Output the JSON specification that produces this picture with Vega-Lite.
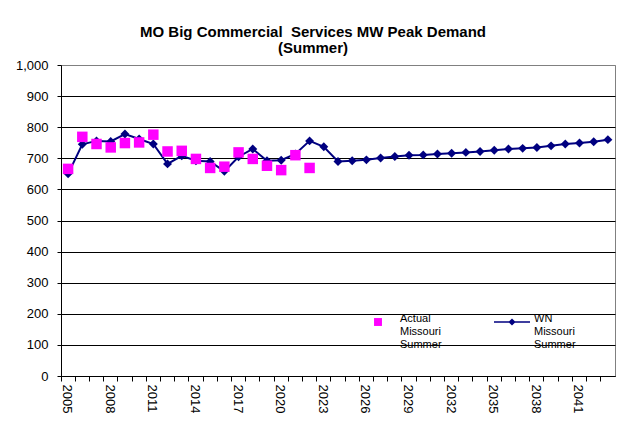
{
  "$schema": "https://vega.github.io/schema/vega-lite/v6.json",
  "width": 554,
  "height": 311,
  "autosize": {"type": "none"},
  "padding": {"left": 61, "top": 65, "right": 9, "bottom": 62},
  "background": "white",
  "title": {
    "text": ["MO Big Commercial\u00a0 Services MW Peak Demand", "(Summer)"],
    "font": "Liberation Sans",
    "fontSize": 15,
    "fontWeight": "bold",
    "color": "#000",
    "anchor": "middle",
    "dx": -25,
    "offset": 3,
    "lineHeight": 16
  },
  "data": {
    "values": [
      {"year": 2005, "series": "WN Missouri Summer", "value": 650},
      {"year": 2006, "series": "WN Missouri Summer", "value": 745},
      {"year": 2007, "series": "WN Missouri Summer", "value": 756},
      {"year": 2008, "series": "WN Missouri Summer", "value": 754},
      {"year": 2009, "series": "WN Missouri Summer", "value": 778},
      {"year": 2010, "series": "WN Missouri Summer", "value": 762},
      {"year": 2011, "series": "WN Missouri Summer", "value": 746},
      {"year": 2012, "series": "WN Missouri Summer", "value": 682},
      {"year": 2013, "series": "WN Missouri Summer", "value": 708},
      {"year": 2014, "series": "WN Missouri Summer", "value": 692},
      {"year": 2015, "series": "WN Missouri Summer", "value": 690},
      {"year": 2016, "series": "WN Missouri Summer", "value": 658},
      {"year": 2017, "series": "WN Missouri Summer", "value": 705},
      {"year": 2018, "series": "WN Missouri Summer", "value": 730},
      {"year": 2019, "series": "WN Missouri Summer", "value": 692},
      {"year": 2020, "series": "WN Missouri Summer", "value": 694},
      {"year": 2021, "series": "WN Missouri Summer", "value": 714},
      {"year": 2022, "series": "WN Missouri Summer", "value": 756},
      {"year": 2023, "series": "WN Missouri Summer", "value": 737},
      {"year": 2024, "series": "WN Missouri Summer", "value": 690},
      {"year": 2025, "series": "WN Missouri Summer", "value": 692},
      {"year": 2026, "series": "WN Missouri Summer", "value": 695},
      {"year": 2027, "series": "WN Missouri Summer", "value": 701},
      {"year": 2028, "series": "WN Missouri Summer", "value": 706},
      {"year": 2029, "series": "WN Missouri Summer", "value": 710},
      {"year": 2030, "series": "WN Missouri Summer", "value": 711},
      {"year": 2031, "series": "WN Missouri Summer", "value": 714},
      {"year": 2032, "series": "WN Missouri Summer", "value": 716},
      {"year": 2033, "series": "WN Missouri Summer", "value": 719},
      {"year": 2034, "series": "WN Missouri Summer", "value": 722},
      {"year": 2035, "series": "WN Missouri Summer", "value": 726},
      {"year": 2036, "series": "WN Missouri Summer", "value": 730},
      {"year": 2037, "series": "WN Missouri Summer", "value": 732},
      {"year": 2038, "series": "WN Missouri Summer", "value": 735},
      {"year": 2039, "series": "WN Missouri Summer", "value": 740},
      {"year": 2040, "series": "WN Missouri Summer", "value": 746},
      {"year": 2041, "series": "WN Missouri Summer", "value": 749},
      {"year": 2042, "series": "WN Missouri Summer", "value": 753},
      {"year": 2043, "series": "WN Missouri Summer", "value": 760},
      {"year": 2005, "series": "Actual Missouri Summer", "value": 666},
      {"year": 2006, "series": "Actual Missouri Summer", "value": 769},
      {"year": 2007, "series": "Actual Missouri Summer", "value": 746},
      {"year": 2008, "series": "Actual Missouri Summer", "value": 735},
      {"year": 2009, "series": "Actual Missouri Summer", "value": 749},
      {"year": 2010, "series": "Actual Missouri Summer", "value": 751},
      {"year": 2011, "series": "Actual Missouri Summer", "value": 776},
      {"year": 2012, "series": "Actual Missouri Summer", "value": 722},
      {"year": 2013, "series": "Actual Missouri Summer", "value": 724},
      {"year": 2014, "series": "Actual Missouri Summer", "value": 698},
      {"year": 2015, "series": "Actual Missouri Summer", "value": 669},
      {"year": 2016, "series": "Actual Missouri Summer", "value": 673},
      {"year": 2017, "series": "Actual Missouri Summer", "value": 719},
      {"year": 2018, "series": "Actual Missouri Summer", "value": 698},
      {"year": 2019, "series": "Actual Missouri Summer", "value": 676},
      {"year": 2020, "series": "Actual Missouri Summer", "value": 662},
      {"year": 2021, "series": "Actual Missouri Summer", "value": 710},
      {"year": 2022, "series": "Actual Missouri Summer", "value": 669}
    ]
  },
  "encoding": {
    "x": {
      "field": "year",
      "type": "ordinal",
      "scale": {"type": "band", "paddingInner": 0, "paddingOuter": 0},
      "axis": {
        "title": null,
        "bandPosition": 0,
        "labelAngle": 90,
        "labelAlign": "left",
        "labelBaseline": "middle",
        "labelOffset": -1,
        "labelPadding": 3,
        "labelOverlap": false,
        "labelExpr": "(toNumber(datum.value) - 2005) % 3 == 0 ? datum.label : ''",
        "labelFont": "Liberation Sans",
        "labelFontSize": 13,
        "labelColor": "#000",
        "tickSize": 5,
        "tickColor": "#000",
        "domainColor": "#000",
        "grid": false
      }
    },
    "y": {
      "field": "value",
      "type": "quantitative",
      "scale": {"domain": [0, 1000], "nice": false},
      "axis": {
        "title": null,
        "values": [0, 100, 200, 300, 400, 500, 600, 700, 800, 900, 1000],
        "format": ",d",
        "labelFont": "Liberation Sans",
        "labelFontSize": 13,
        "labelColor": "#000",
        "labelPadding": 9,
        "tickSize": 4,
        "tickColor": "#000",
        "domainColor": "#000",
        "grid": true,
        "gridColor": {"condition": {"test": "datum.value == 1000", "value": "#808080"}, "value": "#000"},
        "gridOpacity": 1,
        "gridWidth": 1
      }
    }
  },
  "layer": [
    {
      "transform": [{"filter": "datum.series == 'WN Missouri Summer'"}],
      "mark": {"type": "line", "color": "#000080", "strokeWidth": 2}
    },
    {
      "transform": [{"filter": "datum.series == 'WN Missouri Summer'"}],
      "mark": {"type": "point", "shape": "diamond", "filled": true, "size": 80, "opacity": 1},
      "encoding": {
        "color": {
          "field": "series",
          "type": "nominal",
          "scale": {"domain": ["Actual Missouri Summer", "WN Missouri Summer"], "range": ["#FF00FF", "#000080"]},
          "legend": {
            "orient": "none", "legendX": 299, "legendY": 239, "direction": "horizontal", "columns": 2,
            "columnPadding": 52, "title": null, "padding": 0, "symbolSize": 1296, "symbolStrokeWidth": 0,
            "symbolOpacity": 1, "labelExpr": "split(datum.label, ' ')", "labelFont": "Liberation Sans",
            "labelFontSize": 11, "labelColor": "#000", "labelOffset": 4, "labelBaseline": "alphabetic", "labelLimit": 0
          }
        }
      }
    },
    {
      "transform": [{"filter": "datum.series == 'Actual Missouri Summer'"}],
      "mark": {"type": "point", "shape": "square", "filled": true, "size": 110, "opacity": 1},
      "encoding": {
        "color": {
          "field": "series",
          "type": "nominal",
          "legend": {
            "orient": "none", "legendX": 299, "legendY": 239, "direction": "horizontal", "columns": 2,
            "columnPadding": 52, "title": null, "padding": 0, "symbolSize": 1296, "symbolStrokeWidth": 0,
            "symbolOpacity": 1, "labelExpr": "split(datum.label, ' ')", "labelFont": "Liberation Sans",
            "labelFontSize": 11, "labelColor": "#000", "labelOffset": 4, "labelBaseline": "alphabetic", "labelLimit": 0
          }
        }
      }
    },
    {
      "transform": [{"filter": "false"}],
      "mark": {"type": "point", "filled": true, "opacity": 1},
      "encoding": {
        "color": {
          "field": "series",
          "type": "nominal",
          "legend": {
            "orient": "none", "legendX": 299, "legendY": 239, "direction": "horizontal", "columns": 2,
            "columnPadding": 52, "title": null, "padding": 0, "symbolSize": 1296, "symbolStrokeWidth": 0,
            "symbolOpacity": 1, "labelExpr": "split(datum.label, ' ')", "labelFont": "Liberation Sans",
            "labelFontSize": 11, "labelColor": "#000", "labelOffset": 4, "labelBaseline": "alphabetic", "labelLimit": 0
          }
        },
        "shape": {
          "field": "series",
          "type": "nominal",
          "scale": {
            "domain": ["Actual Missouri Summer", "WN Missouri Summer"],
            "range": [
              "M-0.22,-0.22L0.22,-0.22L0.22,0.22L-0.22,0.22Z",
              "M-1,-0.045L1,-0.045L1,0.045L-1,0.045Z M-0.2,0L0,-0.2L0.2,0L0,0.2Z"
            ]
          },
          "legend": {
            "orient": "none", "legendX": 299, "legendY": 239, "direction": "horizontal", "columns": 2,
            "columnPadding": 52, "title": null, "padding": 0, "symbolSize": 1296, "symbolStrokeWidth": 0,
            "symbolOpacity": 1, "labelExpr": "split(datum.label, ' ')", "labelFont": "Liberation Sans",
            "labelFontSize": 11, "labelColor": "#000", "labelOffset": 4, "labelBaseline": "alphabetic", "labelLimit": 0
          }
        }
      }
    }
  ],
  "config": {
    "view": {"stroke": "#808080", "strokeWidth": 1},
    "font": "Liberation Sans"
  }
}
